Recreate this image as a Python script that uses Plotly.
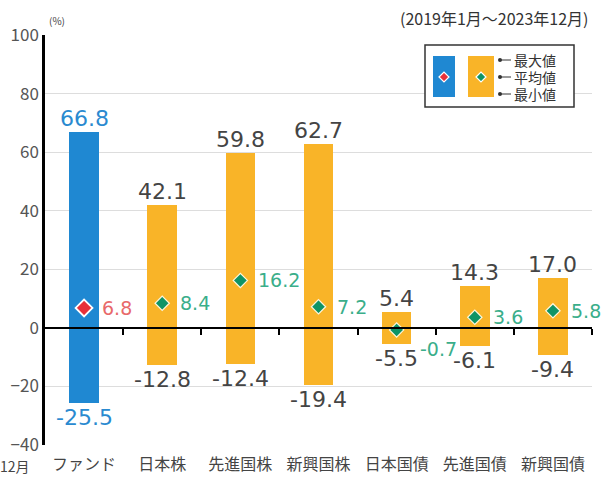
import plotly.graph_objects as go

categories = ["ファンド", "日本株", "先進国株", "新興国株", "日本国債", "先進国債", "新興国債"]
max_vals = [66.8, 42.1, 59.8, 62.7, 5.4, 14.3, 17.0]
min_vals = [-25.5, -12.8, -12.4, -19.4, -5.5, -6.1, -9.4]
mean_vals = [6.8, 8.4, 16.2, 7.2, -0.7, 3.6, 5.8]
y_ticks = [-40, -20, 0, 20, 40, 60, 80, 100]

FONT = "Noto Sans CJK JP"
NUMFONT = "DejaVu Sans"
BLUE = "#1f88d2"
ORANGE = "#f9b428"
RED = "#e8313a"
GREEN = "#0f9466"
GREY_TXT = "#444444"

idx = list(range(len(categories)))
bar_colors = [BLUE] + [ORANGE] * (len(categories) - 1)

fig = go.Figure()
fig.add_trace(go.Bar(
    x=idx, y=[a - b for a, b in zip(max_vals, min_vals)], base=min_vals,
    marker=dict(color=bar_colors, line=dict(width=0)), width=0.38,
    hoverinfo="skip", showlegend=False,
))
# mean markers: fund (red, larger) and others (green)
fig.add_trace(go.Scatter(
    x=idx[:1], y=mean_vals[:1], mode="markers",
    marker=dict(symbol="diamond", size=13, color=RED, line=dict(color="white", width=1.8)),
    showlegend=False, hoverinfo="skip",
))
fig.add_trace(go.Scatter(
    x=idx[1:], y=mean_vals[1:], mode="markers",
    marker=dict(symbol="diamond", size=11, color=GREEN, line=dict(color="#fff6dc", width=1.2)),
    showlegend=False, hoverinfo="skip",
))
# invisible trace for the zero-line axis with ticks
fig.add_trace(go.Scatter(x=[idx[0]], y=[0], xaxis="x2", mode="markers",
                         marker=dict(opacity=0), showlegend=False, hoverinfo="skip"))

ann = []
for i, (mx, mn, me) in enumerate(zip(max_vals, min_vals, mean_vals)):
    col = "#2a8ad0" if i == 0 else GREY_TXT
    ann.append(dict(x=i, y=mx, text=f"{mx:.1f}", showarrow=False, yanchor="bottom",
                    font=dict(family=NUMFONT, size=22, color=col), yshift=-1))
    ann.append(dict(x=i, y=mn, text=f"{mn:.1f}", showarrow=False, yanchor="top",
                    font=dict(family=NUMFONT, size=22, color=col), yshift=0))
    mcol = "#e8696a" if i == 0 else "#3aae8a"
    near_zero = abs(me) < 2
    ann.append(dict(x=i, y=me, text=f"{me:.1f}", showarrow=False, xanchor="left",
                    yanchor="middle", xshift=21 if near_zero else 16,
                    yshift=-19 if near_zero else 0,
                    font=dict(family=NUMFONT, size=19, color=mcol)))


# target positions in screen pixels -> paper coordinates of the plot area
def px(x):
    return (x - 45) / 547


def py(y):
    return (445 - y) / 410


ann += [
    dict(xref="paper", yref="paper", x=px(47), y=py(21), text="(%)", showarrow=False,
         xanchor="left", yanchor="middle", font=dict(family=FONT, size=10, color=GREY_TXT)),
    dict(xref="paper", yref="paper", x=px(591), y=py(18), text="(2019年1月～2023年12月)",
         showarrow=False, xanchor="right", yanchor="middle",
         font=dict(family=FONT, size=16, color="#333")),
    dict(xref="paper", yref="paper", x=px(32), y=py(466), text="2023年12月",
         showarrow=False, xanchor="right", yanchor="middle",
         font=dict(family=FONT, size=14, color=GREY_TXT)),
]
for t, yy in [("最大値", 60), ("平均値", 77), ("最小値", 94)]:
    ann.append(dict(xref="paper", yref="paper", x=px(512), y=py(yy), text=t,
                    showarrow=False, xanchor="left", yanchor="middle",
                    font=dict(family=FONT, size=14, color="#333")))

shapes = [
    dict(type="rect", xref="paper", yref="paper", x0=px(425), x1=px(574), y0=py(107), y1=py(45),
         line=dict(color="#333", width=1.5), fillcolor="white", layer="above"),
    dict(type="rect", xref="paper", yref="paper", x0=px(433), x1=px(455), y0=py(97), y1=py(56),
         line=dict(width=0), fillcolor=BLUE, layer="above"),
    dict(type="rect", xref="paper", yref="paper", x0=px(468), x1=px(494), y0=py(97), y1=py(56),
         line=dict(width=0), fillcolor=ORANGE, layer="above"),
]
for cx, c in [(444, RED), (481, GREEN)]:
    cy = 77
    path = (f"M {px(cx-5)} {py(cy)} L {px(cx)} {py(cy-5)} L {px(cx+5)} {py(cy)} "
            f"L {px(cx)} {py(cy+5)} Z")
    shapes.append(dict(type="path", xref="paper", yref="paper", path=path,
                       fillcolor=c, line=dict(color="white", width=1.2), layer="above"))
for yy in [60, 77, 94]:
    shapes.append(dict(type="line", xref="paper", yref="paper", x0=px(500), x1=px(511),
                       y0=py(yy), y1=py(yy), line=dict(color="#333", width=1), layer="above"))
    shapes.append(dict(type="circle", xref="paper", yref="paper", x0=px(498), x1=px(502),
                       y0=py(yy + 2), y1=py(yy - 2), fillcolor="#333",
                       line=dict(width=0), layer="above"))

fig.update_layout(
    width=604, height=478,
    margin=dict(l=45, r=12, t=35, b=33),
    paper_bgcolor="white", plot_bgcolor="white",
    bargap=0,
    xaxis=dict(range=[-0.5, len(categories) - 0.5], tickmode="array", tickvals=idx,
               ticktext=categories, showgrid=False, zeroline=False, showline=False,
               ticks="", ticklabelstandoff=8, automargin=False,
               tickfont=dict(family=FONT, size=16, color=GREY_TXT)),
    xaxis2=dict(overlaying="x", anchor="free", position=40 / 140, automargin=False,
                range=[-0.5, len(categories) - 0.5], tickmode="array",
                tickvals=[i + 0.5 for i in idx], ticks="outside", ticklen=6, tickwidth=1.5,
                tickcolor="black", showticklabels=False, showline=True, linecolor="black",
                linewidth=2, showgrid=False, zeroline=False),
    yaxis=dict(range=[-40, 100], tickmode="array", tickvals=y_ticks, automargin=False,
               showgrid=True, gridcolor="#dddddd", gridwidth=1, zeroline=False,
               showline=True, linecolor="black", linewidth=2.5, ticks="",
               tickfont=dict(family=FONT, size=17, color="#555")),
    annotations=ann, shapes=shapes,
    font=dict(family=FONT),
)

fig.write_html("out.html", config={"displayModeBar": False},
               post_script="document.body.style.margin='0px';")
